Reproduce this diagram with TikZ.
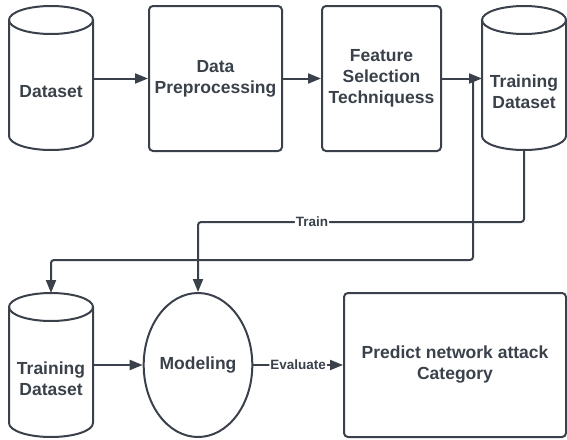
\documentclass[tikz,border=0pt]{standalone}
\usepackage{fontspec}
\setmainfont{Liberation Sans}
\usetikzlibrary{arrows.meta,shapes.geometric}
\definecolor{ink}{HTML}{3A414A}

\tikzset{
  edge/.style={draw=ink, line width=2pt},
  flow/.style={edge, -{Triangle[length=13pt,width=10pt]}, rounded corners=3pt},
  boxtext/.style={align=center, text=ink, font=\fontsize{17.5}{21}\selectfont\bfseries},
  box/.style={edge, boxtext, rounded corners=4pt, inner sep=0pt},
  store/.style={boxtext, minimum width=84pt, minimum height=116pt, inner sep=0pt, outer sep=0pt},
  lbl/.style={fill=white, inner sep=1pt, text=ink, font=\fontsize{13.5}{15}\selectfont\bfseries},
}

% outline of a data store drawn round its body node
\newcommand{\drawstore}[1]{%
  \draw[edge] ([yshift=14pt]#1.north west) -- ([yshift=14pt]#1.south west)
    arc[start angle=180, end angle=360, x radius=42pt, y radius=14pt]
    -- ([yshift=14pt]#1.north east);
  \draw[edge] ([yshift=14pt]#1.north) ellipse[x radius=42pt, y radius=14pt];
  \coordinate (#1-top) at ([yshift=28pt]#1.north);
}

\begin{document}
\begin{tikzpicture}[x=1pt, y=1pt]
  \useasboundingbox (0,0) rectangle (567,-439);

  % Nodes
  \node[store] (dataset) at (51,-92) {Dataset};
  \node[box, minimum width=133pt, minimum height=145pt] (preproc) at (215.5,-78.5) {Data\\Preprocessing};
  \node[box, minimum width=119pt, minimum height=145pt] (featsel) at (381.5,-78.5) {Feature\\Selection\\Techniquess};
  \node[store] (traindata) at (524,-92) {Training\\Dataset};
  \node[store] (trainset) at (51,-379) {Training\\Dataset};
  \node[edge, boxtext, ellipse, inner sep=0pt, minimum width=98pt, minimum height=144pt] (modeling) at (198,-365) {Modeling};
  \node[box, minimum width=222pt, minimum height=144pt] (predict) at (455,-365) {Predict network attack\\Category};

  \drawstore{dataset}
  \drawstore{traindata}
  \drawstore{trainset}

  \coordinate (split) at (473,-78.5);

  % Edges
  \draw[flow] (dataset.east |- preproc.west) -- (preproc.west);
  \draw[flow] (preproc) -- (featsel);
  \draw[flow] (featsel.east) -- (traindata.west |- featsel.east);
  \draw[flow] (split) -- (split |- 0,-260) -| (trainset-top);
  \draw[flow] (traindata.south) |- node[lbl, pos=0.825] {Train} (modeling.north |- 0,-222) -- (modeling.north);
  \draw[flow] (trainset.east |- modeling.west) -- (modeling.west);
  \draw[flow] (modeling.east) -- node[lbl] {Evaluate} (predict.west);
\end{tikzpicture}
\end{document}
